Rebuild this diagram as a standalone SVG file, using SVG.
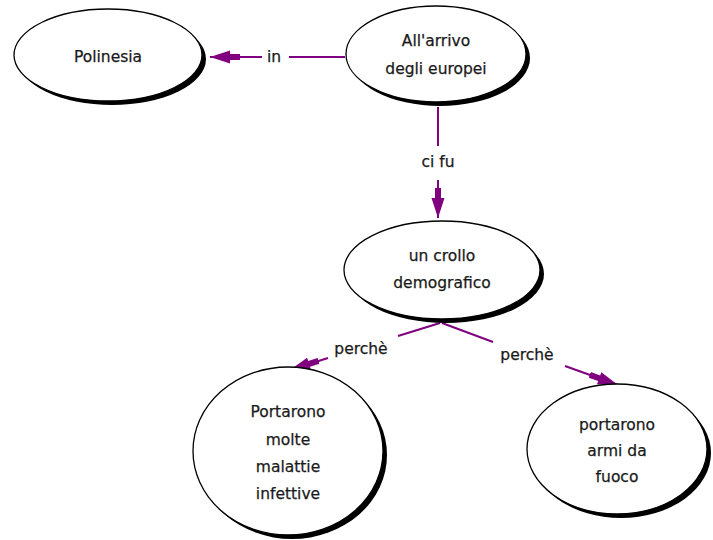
<svg xmlns="http://www.w3.org/2000/svg" width="713" height="540" viewBox="0 0 713 540">
<style>
.shadow{fill:#000}
.node{fill:#fff;stroke:#000;stroke-width:1.3}
.t{font-family:"DejaVu Sans",sans-serif;font-size:15.5px;fill:#1a1a1a;stroke:#1a1a1a;stroke-width:0.25;text-anchor:middle}
.c{stroke:#800080;stroke-width:2;fill:none}
</style>
<defs>
<marker id="ah" viewBox="0 0 30 14" refX="30" refY="7" markerWidth="30" markerHeight="14" markerUnits="userSpaceOnUse" orient="auto">
<path d="M0,4 L10,4 L10,0.5 L30,7 L10,13.5 L10,10 L0,10 Z" fill="#800080"/>
</marker>
</defs>
<rect width="713" height="540" fill="#fff"/>
<g id="connectors">
<line class="c" x1="345" y1="57" x2="289" y2="57"/>
<line class="c" x1="262" y1="57" x2="210" y2="57" marker-end="url(#ah)"/>
<text class="t" x="274" y="62">in</text>
<line class="c" x1="438" y1="107" x2="438" y2="146"/>
<line class="c" x1="438" y1="180" x2="438" y2="218" marker-end="url(#ah)"/>
<text class="t" x="438" y="167">ci fu</text>
<line class="c" x1="440" y1="323" x2="398" y2="336"/>
<line class="c" x1="328" y1="358" x2="290" y2="370" marker-end="url(#ah)"/>
<text class="t" x="361" y="354">perchè</text>
<line class="c" x1="442" y1="323" x2="493" y2="342"/>
<line class="c" x1="565" y1="366" x2="618" y2="385" marker-end="url(#ah)"/>
<text class="t" x="527" y="360">perchè</text>
</g>
<g id="polinesia">
<ellipse class="shadow" cx="112" cy="59" rx="94" ry="46"/>
<ellipse class="node" cx="108" cy="55" rx="94" ry="46"/>
<text class="t" x="108" y="62">Polinesia</text>
</g>
<g id="arrivo">
<ellipse class="shadow" cx="440" cy="58" rx="90" ry="48"/>
<ellipse class="node" cx="436" cy="54" rx="90" ry="48"/>
<text class="t" x="436" y="46">All'arrivo</text>
<text class="t" x="436" y="74">degli europei</text>
</g>
<g id="crollo">
<ellipse class="shadow" cx="446" cy="274" rx="98" ry="49"/>
<ellipse class="node" cx="442" cy="270" rx="98" ry="49"/>
<text class="t" x="442" y="261">un crollo</text>
<text class="t" x="442" y="288">demografico</text>
</g>
<g id="malattie">
<ellipse class="shadow" cx="292" cy="455" rx="95" ry="84"/>
<ellipse class="node" cx="288" cy="451" rx="95" ry="84"/>
<text class="t" x="288" y="417">Portarono</text>
<text class="t" x="288" y="445">molte</text>
<text class="t" x="288" y="472">malattie</text>
<text class="t" x="288" y="499">infettive</text>
</g>
<g id="armi">
<ellipse class="shadow" cx="621" cy="453" rx="90" ry="65"/>
<ellipse class="node" cx="617" cy="449" rx="90" ry="65"/>
<text class="t" x="617" y="430">portarono</text>
<text class="t" x="617" y="456">armi da</text>
<text class="t" x="617" y="482">fuoco</text>
</g>
</svg>
